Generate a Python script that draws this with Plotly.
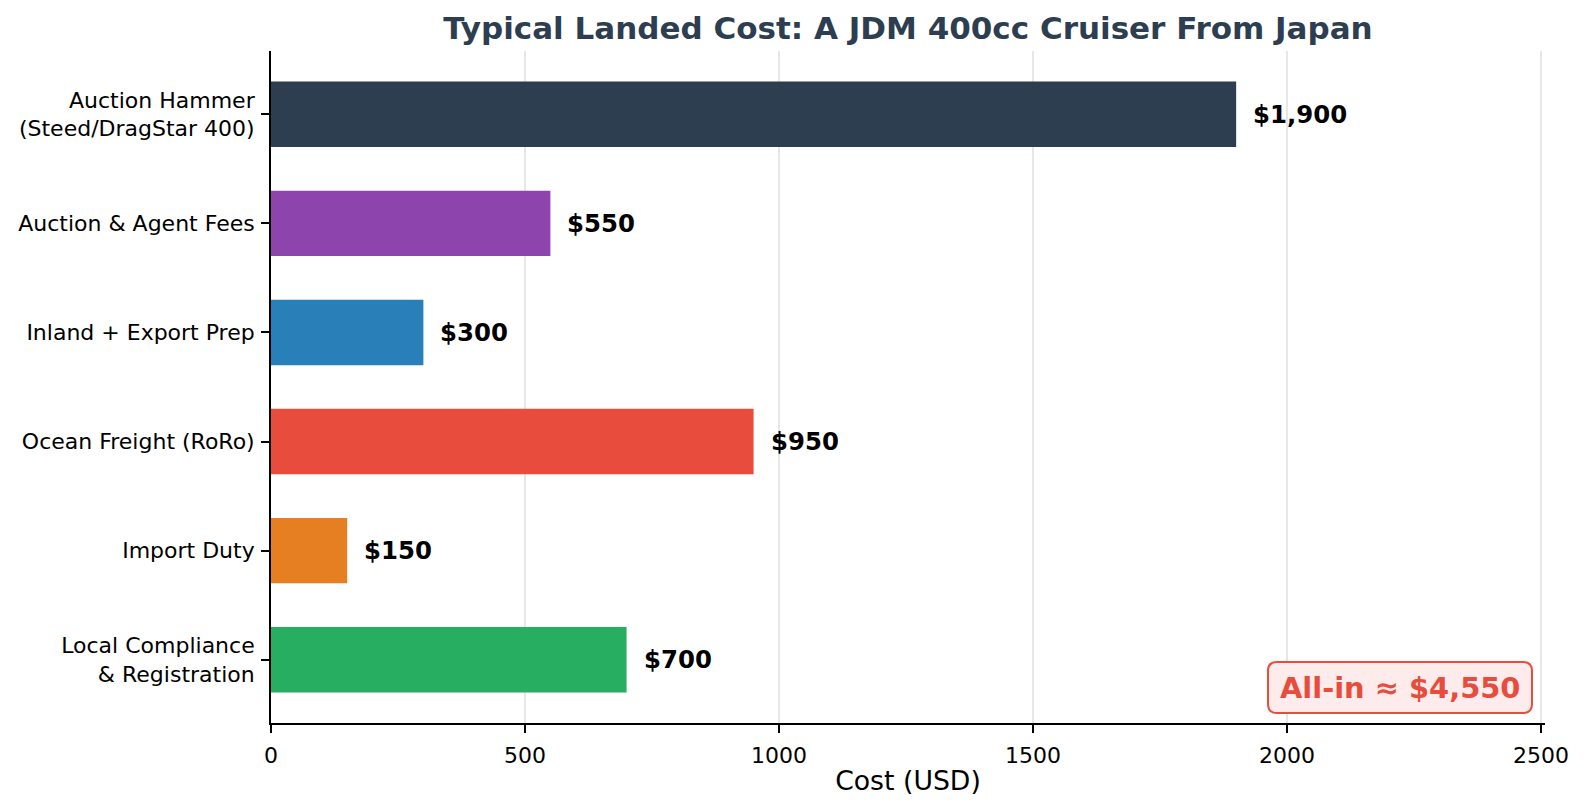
import plotly.graph_objects as go

categories = ["Auction Hammer<br>(Steed/DragStar 400)", "Auction & Agent Fees", "Inland + Export Prep",
              "Ocean Freight (RoRo)", "Import Duty", "Local Compliance<br>& Registration"]
values = [1900, 550, 300, 950, 150, 700]
value_labels = ["$1,900", "$550", "$300", "$950", "$150", "$700"]
colors = ["#2c3e50", "#8e44ad", "#2980b9", "#e74c3c", "#e67e22", "#27ae60"]
x_ticks = [0, 500, 1000, 1500, 2000, 2500]
title = "Typical Landed Cost: A JDM 400cc Cruiser From Japan"
total_label = "All-in ≈ $4,550"

FONT = "DejaVu Sans"
W, H = 1585, 809
ML, MR, MT, MB = 271, 40, 51, 86
PW, PH = W - ML - MR, H - MT - MB

fig = go.Figure()
fig.add_trace(go.Bar(
    y=categories, x=values, orientation="h",
    marker=dict(color=colors, line=dict(width=0)),
    width=0.6, hoverinfo="skip",
))

for cat, v, lab in zip(categories, values, value_labels):
    fig.add_annotation(x=v, y=cat, xref="x", yref="y", text="<b>%s</b>" % lab,
                       showarrow=False, xanchor="left", yanchor="middle", xshift=15,
                       font=dict(family=FONT, size=24.4, color="black"))

# rounded box for the total label (pixel layout converted to paper coords)
bx0, bx1, by_top, by_bot, r = 1268, 1532, 662, 713, 9
def px(x):
    return (x - ML) / PW
def py(y):
    return (H - MB - y) / PH
x0, x1, y0, y1 = px(bx0), px(bx1), py(by_bot), py(by_top)
rx, ry = r / PW, r / PH
path = (f"M {x0+rx},{y0} L {x1-rx},{y0} Q {x1},{y0} {x1},{y0+ry} "
        f"L {x1},{y1-ry} Q {x1},{y1} {x1-rx},{y1} L {x0+rx},{y1} Q {x0},{y1} {x0},{y1-ry} "
        f"L {x0},{y0+ry} Q {x0},{y0} {x0+rx},{y0} Z")
fig.add_shape(type="path", path=path, xref="paper", yref="paper",
              fillcolor="#fdeceb", line=dict(color="#e74c3c", width=2), layer="above")
fig.add_annotation(x=(x0 + x1) / 2, y=(y0 + y1) / 2, xref="paper", yref="paper",
                   text="<b>%s</b>" % total_label, showarrow=False,
                   xanchor="center", yanchor="middle",
                   font=dict(family=FONT, size=28.9, color="#e74c3c"))

fig.update_layout(
    width=W, height=H,
    margin=dict(l=ML, r=MR, t=MT, b=MB, autoexpand=False),
    paper_bgcolor="white", plot_bgcolor="white",
    showlegend=False,
    title=dict(text="<b>%s</b>" % title, x=(ML + W - MR) / 2 / W, xanchor="center",
               y=1 - 28 / H, yanchor="middle", yref="container",
               font=dict(family=FONT, size=31, color="#2c3e50")),
    font=dict(family=FONT, color="black"),
)
fig.update_xaxes(
    range=[0, 2508], tickvals=x_ticks, ticktext=[str(t) for t in x_ticks],
    showgrid=True, gridcolor="rgba(176,176,176,0.3)", gridwidth=1.8,
    showline=True, linecolor="black", linewidth=1.8,
    ticks="outside", ticklen=8, tickwidth=1.8, tickcolor="black",
    tickfont=dict(family=FONT, size=22, color="black"), ticklabelstandoff=4,
    title=dict(text="Cost (USD)", font=dict(family=FONT, size=26.7, color="black"), standoff=4),
    zeroline=False, layer="above traces",
)
fig.update_yaxes(
    range=[5.58, -0.58], showgrid=False,
    showline=True, linecolor="black", linewidth=1.8,
    ticks="outside", ticklen=8, tickwidth=1.8, tickcolor="black",
    tickfont=dict(family=FONT, size=22, color="black"), ticklabelstandoff=2,
    zeroline=False,
)

fig.write_html("out.html")
